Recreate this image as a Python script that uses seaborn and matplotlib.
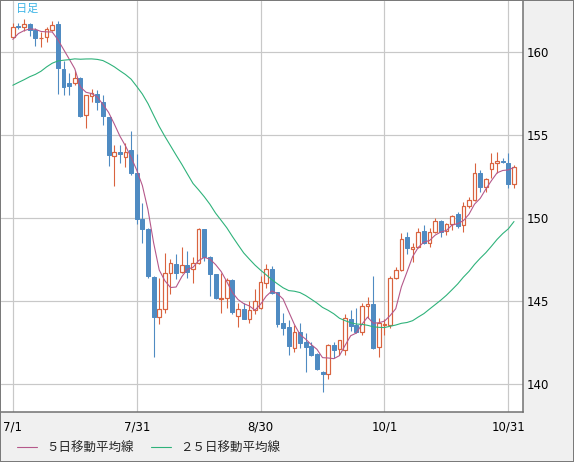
import numpy as np
import pandas as pd
import matplotlib
matplotlib.use('Agg')
import matplotlib.pyplot as plt
import seaborn as sns
from matplotlib.patches import Rectangle

# closes before 7/1, only needed to start the moving averages
prev_close = [157.2, 157.6, 156.8, 157.3, 156.1, 154.8, 156.1, 155.6, 156.8, 157.1,
              157.2, 156.7, 157.0, 157.4, 157.7, 157.9, 158.1, 158.9, 159.8, 159.7,
              159.7, 160.8, 160.8, 160.9]

# daily candles 7/1 - 11/1 (weekdays)
opens = [160.87, 161.55, 161.5, 161.67, 161.3, 160.8, 160.87, 161.3, 161.65, 158.96,
         158.1, 158.1, 158.4, 156.2, 157.35, 157.45, 157.0, 156.05, 153.72, 153.97,
         153.65, 154.09, 152.68, 149.92, 149.31, 146.46, 144.06, 144.5, 146.67, 147.21,
         146.76, 147.15, 146.91, 147.27, 149.31, 147.63, 146.62, 145.1, 145.16, 146.26,
         144.1, 144.52, 143.92, 144.46, 144.55, 146.07, 146.93, 145.52, 143.66, 143.42,
         142.15, 143.12, 142.51, 142.31, 141.81, 140.75, 140.61, 142.35, 142.1, 142.08,
         143.9, 143.56, 143.15, 144.7, 144.82, 142.21, 143.56, 143.56, 146.37, 146.87,
         148.83, 148.15, 148.23, 149.19, 148.51, 149.13, 149.81, 149.21, 149.61, 150.23,
         149.57, 150.73, 151.08, 152.68, 151.88, 152.94, 153.28, 153.44, 153.28, 152.02]
highs = [161.74, 161.74, 161.95, 161.71, 161.41, 161.2, 161.46, 161.86, 161.86, 159.44,
         158.7, 158.86, 158.45, 157.4, 157.74, 157.7, 157.4, 156.1, 154.39, 154.39,
         154.49, 155.2, 153.84, 150.88, 149.4, 146.5, 146.36, 147.87, 147.51, 147.83,
         148.23, 148.0, 147.67, 149.4, 149.35, 147.7, 146.65, 146.67, 146.37, 146.3,
         144.86, 144.9, 144.98, 145.7, 146.5, 147.2, 147.1, 145.55, 144.26, 143.86,
         143.56, 143.66, 143.06, 142.53, 141.87, 140.78, 142.41, 142.51, 142.65, 144.2,
         144.46, 144.6, 144.9, 145.26, 146.5, 143.96, 143.9, 146.5, 147.03, 149.07,
         149.17, 148.47, 149.41, 149.57, 149.37, 149.97, 149.87, 149.67, 150.17, 150.37,
         150.94, 151.28, 153.28, 152.88, 152.42, 153.89, 153.95, 153.58, 153.89, 153.18]
lows = [160.81, 161.35, 161.26, 160.94, 160.34, 160.3, 160.6, 161.26, 157.44, 157.39,
        157.4, 158.0, 156.05, 155.4, 156.99, 156.5, 155.6, 153.12, 151.94, 153.29,
        153.04, 152.6, 149.63, 148.51, 146.4, 141.65, 143.62, 144.3, 145.4, 146.31,
        146.7, 146.37, 146.1, 147.2, 147.43, 145.3, 145.1, 144.26, 144.56, 144.2,
        143.45, 143.9, 143.66, 144.22, 144.5, 145.8, 145.4, 143.42, 142.95, 141.75,
        141.91, 142.15, 140.71, 141.7, 140.85, 139.54, 140.31, 141.55, 141.75, 141.75,
        143.19, 143.05, 142.95, 143.96, 142.1, 141.61, 142.95, 143.4, 146.3, 146.8,
        147.83, 147.36, 148.17, 148.43, 148.27, 149.07, 148.87, 149.0, 149.27, 149.37,
        149.13, 150.58, 151.02, 151.58, 151.54, 152.38, 152.68, 153.28, 151.82, 151.82]
closes = [161.5, 161.47, 161.67, 161.3, 160.8, 160.85, 161.35, 161.62, 159.0, 157.9,
          157.95, 158.4, 156.15, 157.39, 157.5, 156.96, 156.13, 153.78, 153.95, 153.83,
          153.98, 152.72, 149.92, 149.31, 146.52, 144.06, 144.5, 146.7, 147.27, 146.67,
          147.15, 146.76, 147.27, 149.31, 147.63, 146.61, 145.15, 145.16, 146.26, 144.35,
          144.5, 143.94, 144.46, 145.0, 146.13, 146.93, 145.5, 143.62, 143.39, 142.31,
          143.12, 142.45, 142.25, 141.75, 140.91, 140.59, 142.35, 142.05, 142.65, 143.99,
          143.51, 143.15, 144.7, 144.8, 142.15, 143.66, 143.62, 146.37, 146.87, 148.71,
          148.17, 148.23, 149.13, 148.51, 149.13, 149.81, 149.17, 149.61, 150.13, 149.53,
          150.73, 151.08, 152.68, 151.84, 152.34, 153.28, 153.42, 153.38, 152.02, 153.08]

x_tick_pos = [0, 22, 44, 66, 88]
x_tick_labels = ['7/1', '7/31', '8/30', '10/1', '10/31']
y_ticks = [140, 145, 150, 155, 160]

UP = '#d9633f'
DOWN = '#4f8bc2'
MA5_COL = '#b5588a'
MA25_COL = '#2eb27a'
PX = 0.72  # one pixel in points at dpi 100

df = pd.DataFrame({'open': opens, 'high': highs, 'low': lows, 'close': closes})
df['i'] = np.arange(len(df))

all_close = pd.Series(prev_close + closes)
n_prev = len(prev_close)
df['ma5'] = all_close.rolling(5).mean().iloc[n_prev:].values
df['ma25'] = all_close.rolling(25).mean().iloc[n_prev:].values

sns.set_theme(style='white')
plt.rcParams['font.family'] = ['DejaVu Sans', 'Noto Sans CJK JP']

fig = plt.figure(figsize=(5.74, 4.62), dpi=100, facecolor='#f0f0f0')
ax = fig.add_axes([1 / 574, 1 - 412 / 462, 522 / 574, 411 / 462])
ax.set_facecolor('white')

# grid
for xp in x_tick_pos:
    ax.axvline(xp, color='#c8c8c8', lw=1.2 * PX, zorder=0)
for yp in y_ticks:
    ax.axhline(yp, color='#c8c8c8', lw=1.2 * PX, zorder=0)

# candles
up = df['close'] >= df['open']
col = np.where(up, UP, DOWN)
ax.vlines(df['i'], df['low'], df['high'], colors=col, lw=1.1 * PX, zorder=2)

body_low = np.minimum(df['open'], df['close'])
body_h = np.maximum((df['close'] - df['open']).abs(), 0.04)
d_up = df[up]
d_dn = df[~up]
ax.bar(d_up['i'], body_h[up], bottom=body_low[up], width=0.64,
       facecolor='white', edgecolor=UP, linewidth=1.2 * PX, zorder=3)
ax.bar(d_dn['i'], body_h[~up], bottom=body_low[~up], width=0.7,
       facecolor=DOWN, edgecolor=DOWN, linewidth=1.0 * PX, zorder=3)

# moving averages
sns.lineplot(data=df, x='i', y='ma5', color=MA5_COL, lw=1.1 * PX, ax=ax, zorder=4)
sns.lineplot(data=df, x='i', y='ma25', color=MA25_COL, lw=1.1 * PX, ax=ax, zorder=4)
ma_lines = ax.get_lines()[-2:]

ax.set_xlim(-2.1, 90.6)
ax.set_ylim(138.32, 163.05)
ax.set_xlabel('')
ax.set_ylabel('')

ax.set_xticks(x_tick_pos)
ax.set_xticklabels(x_tick_labels)
ax.set_yticks(y_ticks)
ax.yaxis.tick_right()
ax.tick_params(axis='y', length=0, pad=3, labelsize=8.5, colors='black')
ax.tick_params(axis='x', length=0, pad=6, labelsize=8.5, colors='black')
ax.grid(False)

for side in ['left', 'top']:
    ax.spines[side].set_visible(False)
for side in ['right', 'bottom']:
    ax.spines[side].set_color('#6e6e6e')
    ax.spines[side].set_linewidth(1.5 * PX)

ax.text(15 / 522, 1 - 3 / 411, '日足', transform=ax.transAxes, ha='left', va='top',
        color='#3cb4e6', fontsize=8, family=['Noto Sans CJK JP', 'DejaVu Sans'])

fig.legend(handles=ma_lines, labels=['５日移動平均線', '２５日移動平均線'],
           loc='center left', bbox_to_anchor=(16.5 / 574, 1 - 448 / 462), ncol=2,
           frameon=False, borderpad=0, borderaxespad=0, handlelength=1.6,
           handletextpad=0.75, columnspacing=1.4,
           prop={'family': ['Noto Sans CJK JP', 'DejaVu Sans'], 'size': 9})

# outer frame of the whole picture
fig.patches.append(Rectangle((0, 0), 1, 1, transform=fig.transFigure, fill=False,
                             edgecolor='#7a7a7a', lw=2 * PX, zorder=10))

fig.savefig('out.png', dpi=100, facecolor=fig.get_facecolor())
